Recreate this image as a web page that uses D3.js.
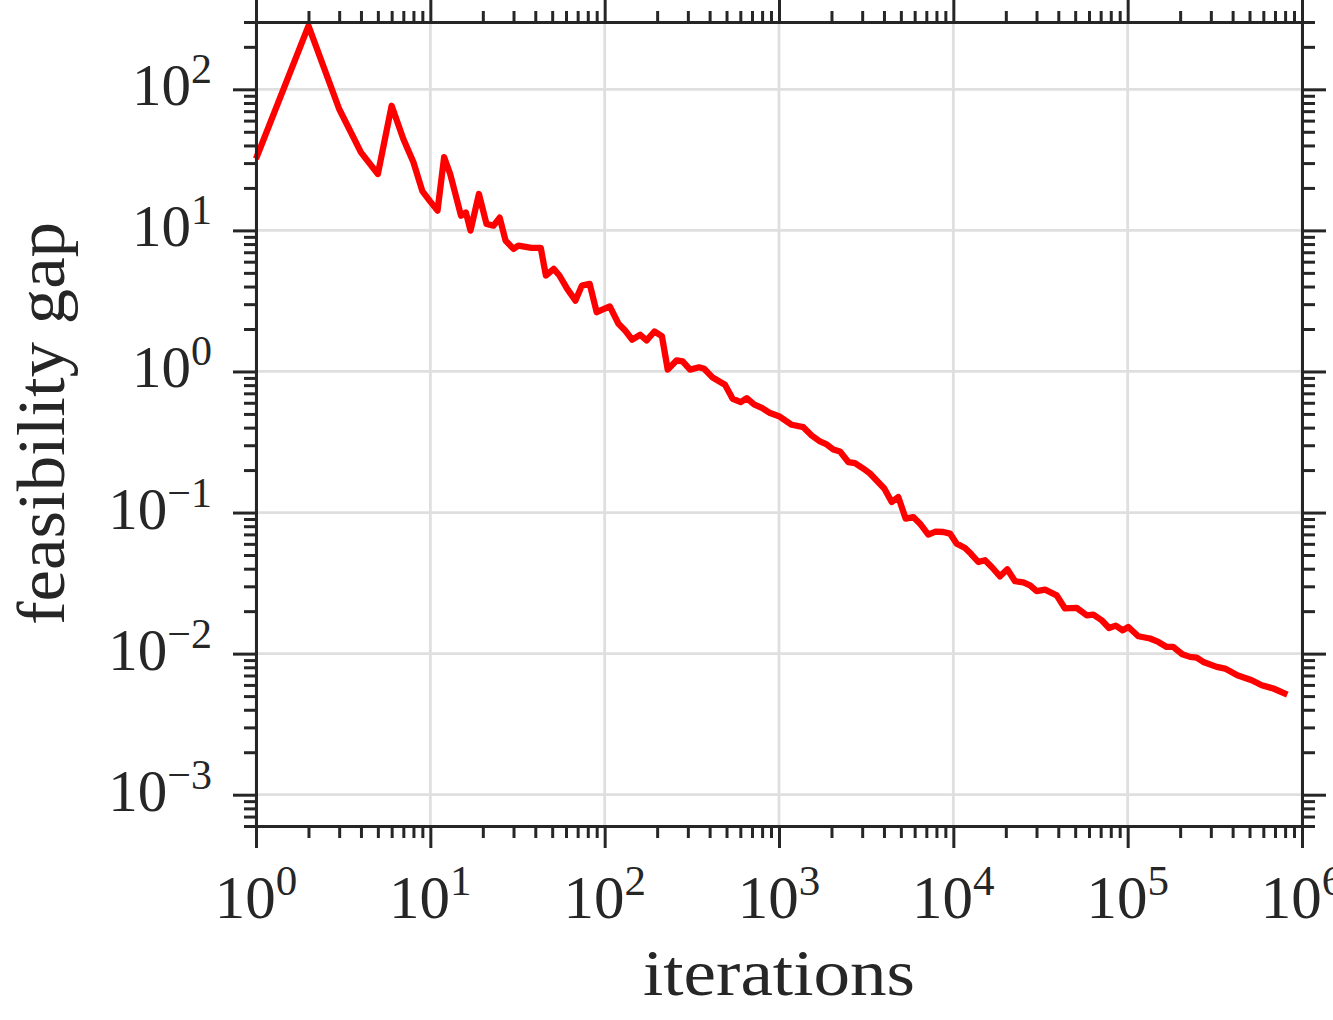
<!DOCTYPE html>
<html>
<head>
<meta charset="utf-8">
<script src="https://cdn.jsdelivr.net/npm/d3@7"></script>
<style>
  html, body { margin: 0; padding: 0; background: #fff; }
  svg { display: block; }
  text { font-family: "Liberation Serif", "DejaVu Serif", serif; fill: #262626; }
</style>
</head>
<body>
<svg id="chart" width="1333" height="1020"></svg>
<script>
// ---- data ----
const iterations = [1,2,3,4,5,6,7,8,9,10,11,12,13,15,16,17,19,21,23,25,27,30,32,38,43,46,51,55,61,68,74,82,90,107,120,131,144,160,174,193,213,230,259,280,309,348,372,414,490,542,603,653,719,802,889,1000,1183,1379,1540,1719,1878,2049,2239,2498,2729,3045,3327,3713,4018,4431,4835,5331,5894,6441,7186,7905,8761,9572,10457,11670,12583,13911,15196,16604,18530,20404,22590,25202,27540,30087,33570,39174,43707,51029,58210,63535,70980,78163,85418,93676,100860,115100,134360,149930,167490,182740,205800,227880,248880,271650,324260,361790,425600,514800,587300,684800,823800];
const feasibilityGap = [32.2,282,72.5,35.7,25.1,76.5,44.5,30.4,19,16,13.8,33,25.1,12.7,13.4,9.97,18.1,11.1,10.8,12.3,8.47,7.39,7.8,7.52,7.52,4.79,5.34,4.79,3.85,3.18,4.06,4.18,2.63,2.89,2.18,1.95,1.68,1.82,1.66,1.92,1.78,1.03,1.20,1.18,1.03,1.07,1.045,0.911,0.805,0.641,0.607,0.647,0.584,0.55,0.507,0.482,0.419,0.403,0.352,0.319,0.304,0.280,0.271,0.228,0.224,0.205,0.189,0.164,0.148,0.1187,0.1288,0.0905,0.0929,0.0834,0.0698,0.0733,0.0728,0.0709,0.0602,0.0561,0.0512,0.0446,0.0459,0.0411,0.0353,0.0396,0.0326,0.0320,0.0305,0.0277,0.0284,0.0259,0.0209,0.0211,0.0187,0.0189,0.01724,0.0152,0.0158,0.01464,0.01545,0.01328,0.0128,0.0121,0.01115,0.01115,0.0099,0.00948,0.00938,0.00873,0.00805,0.00784,0.00703,0.00648,0.00597,0.00566,0.00513];
const xDomain = [1, 1e6];
const yDomain = [6e-4, 300];
const xExponents = [0,1,2,3,4,5,6];
const yExponents = [-3,-2,-1,0,1,2];
const xTitle = "iterations";
const yTitle = "feasibility gap";

// ---- layout ----
const svg = d3.select("#chart");
const L = 256, T = 22, R = 1302, B = 826;
const AX = "#262626";

const x = d3.scaleLog().domain(xDomain).range([L, R]);
const y = d3.scaleLog().domain(yDomain).range([B, T]);

const xMajor = xExponents.map(e => Math.pow(10, e));
const yMajor = yExponents.map(e => Math.pow(10, e));
function minorsFor(domain) {
  const out = [];
  const lo = Math.floor(Math.log10(domain[0])), hi = Math.ceil(Math.log10(domain[1]));
  for (let e = lo; e <= hi; e++) for (let m = 2; m <= 9; m++) {
    const v = m * Math.pow(10, e);
    if (v >= domain[0] * 0.999 && v <= domain[1] * 1.001) out.push(v);
  }
  return out;
}
const xMinor = minorsFor(xDomain);
const yMinor = minorsFor(yDomain);

// grid
const grid = svg.append("g");
grid.selectAll("line.gx").data(xMajor).join("line")
  .attr("x1", d => x(d)).attr("x2", d => x(d)).attr("y1", T).attr("y2", B)
  .attr("stroke", "#dfdfdf").attr("stroke-width", 2.8);
grid.selectAll("line.gy").data(yMajor).join("line")
  .attr("y1", d => y(d)).attr("y2", d => y(d)).attr("x1", L).attr("x2", R)
  .attr("stroke", "#dfdfdf").attr("stroke-width", 2.8);

// data line
const line = d3.line().x((d, i) => x(iterations[i])).y(d => y(d));
svg.append("path").datum(feasibilityGap)
  .attr("d", line).attr("fill", "none")
  .attr("stroke", "#ff0000").attr("stroke-width", 6.3)
  .attr("stroke-linejoin", "round").attr("stroke-linecap", "butt");

// axes
function styleAxis(g) {
  g.selectAll("path.domain").attr("stroke", AX).attr("stroke-width", 3);
  g.selectAll(".tick line").attr("stroke", AX).attr("stroke-width", 3);
  g.selectAll(".tick text").remove();
}
function addAxis(axisFn, scale, transform, major, minor, majLen, minLen) {
  const gMin = svg.append("g").attr("transform", transform)
    .call(axisFn(scale).tickValues(minor).tickSize(minLen).tickSizeOuter(0).tickFormat(""));
  styleAxis(gMin);
  const gMaj = svg.append("g").attr("transform", transform)
    .call(axisFn(scale).tickValues(major).tickSize(majLen).tickSizeOuter(0).tickFormat(""));
  styleAxis(gMaj);
}
addAxis(d3.axisBottom, x, `translate(0,${B})`, xMajor, xMinor, 22, 12);
addAxis(d3.axisTop, x, `translate(0,${T})`, xMajor, xMinor, 22, 11);
addAxis(d3.axisLeft, y, `translate(${L},0)`, yMajor, yMinor, 23, 12);
addAxis(d3.axisRight, y, `translate(${R},0)`, yMajor, yMinor, 24, 13);

// x tick labels
const xl = svg.append("g").selectAll("text").data(xExponents).join("text")
  .attr("x", d => x(Math.pow(10, d))).attr("y", 918)
  .attr("text-anchor", "middle");
xl.append("tspan").attr("font-size", 61).text("10");
xl.append("tspan").attr("font-size", 43).attr("dy", -23).text(d => String(d).replace("-", "\u2212"));

// y tick labels
const yl = svg.append("g").selectAll("text").data(yExponents).join("text")
  .attr("x", 212).attr("y", d => y(Math.pow(10, d)) + 16)
  .attr("text-anchor", "end");
yl.append("tspan").attr("font-size", 59).text("10");
yl.append("tspan").attr("font-size", 42).attr("dy", -22).text(d => String(d).replace("-", "\u2212"));

// axis titles
svg.append("text").attr("x", 779).attr("y", 995).attr("text-anchor", "middle")
  .attr("font-size", 66).attr("textLength", 272).attr("lengthAdjust", "spacingAndGlyphs")
  .text(xTitle);
svg.append("text").attr("transform", "translate(64,423.5) rotate(-90)").attr("text-anchor", "middle")
  .attr("font-size", 68).attr("textLength", 403).attr("lengthAdjust", "spacingAndGlyphs")
  .text(yTitle);
</script>
</body>
</html>
